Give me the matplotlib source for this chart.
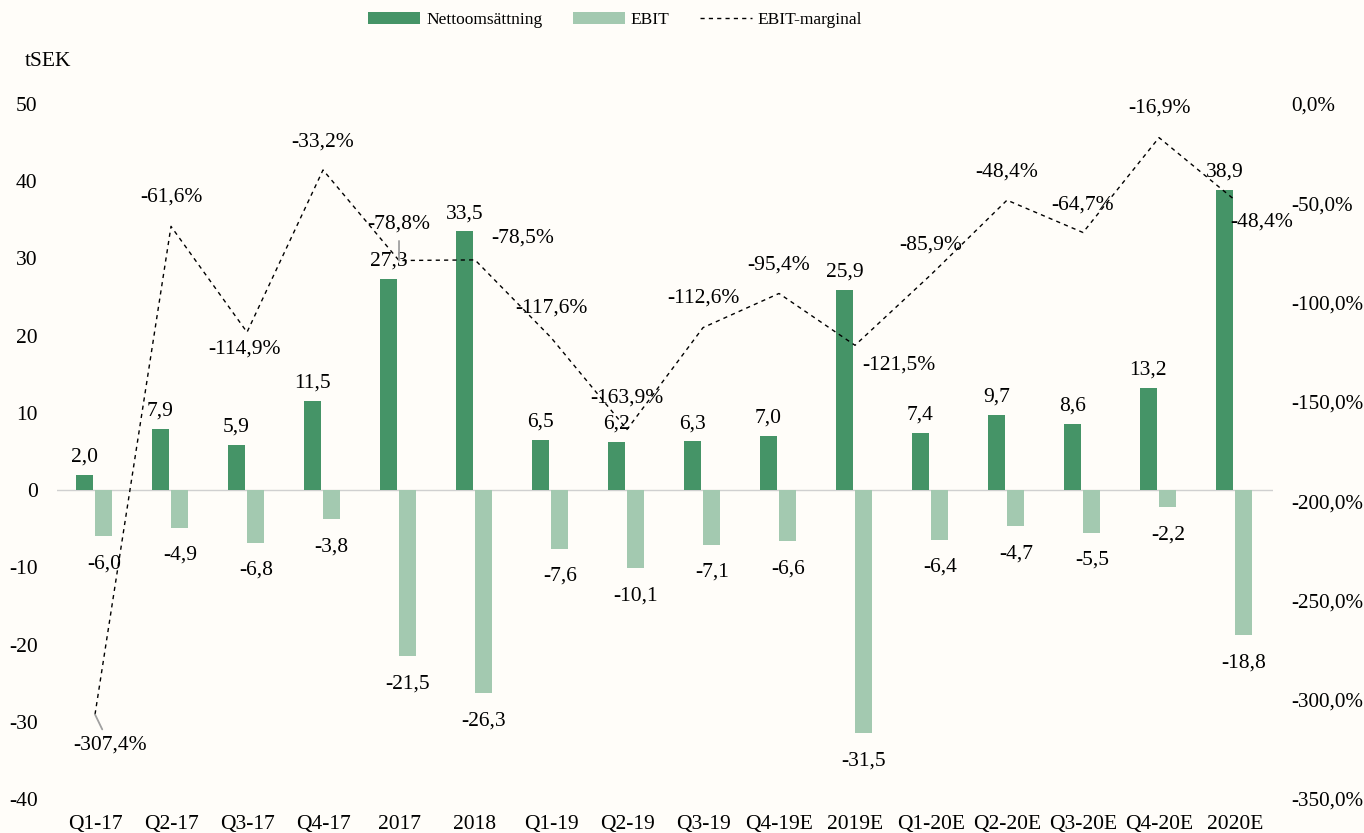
import numpy as np
import matplotlib.pyplot as plt
from matplotlib.ticker import FuncFormatter

# data
categories = ['Q1-17', 'Q2-17', 'Q3-17', 'Q4-17', '2017', '2018', 'Q1-19', 'Q2-19',
              'Q3-19', 'Q4-19E', '2019E', 'Q1-20E', 'Q2-20E', 'Q3-20E', 'Q4-20E', '2020E']
netto = [2.0, 7.9, 5.9, 11.5, 27.3, 33.5, 6.5, 6.2, 6.3, 7.0, 25.9, 7.4, 9.7, 8.6, 13.2, 38.9]
ebit = [-6.0, -4.9, -6.8, -3.8, -21.5, -26.3, -7.6, -10.1, -7.1, -6.6, -31.5, -6.4, -4.7, -5.5, -2.2, -18.8]
marginal = [-307.4, -61.6, -114.9, -33.2, -78.8, -78.5, -117.6, -163.9, -112.6, -95.4,
            -121.5, -85.9, -48.4, -64.7, -16.9, -48.4]

# label offsets for the margin labels (pixels), leader line flag
m_off = [(15, -31), (0, 29), (-3, -17), (0, 28), (0, 36), (48, 22), (0, 30), (0, 31),
         (0, 30), (0, 28), (44, -20), (0, 30), (0, 28), (0, 27), (0, 30), (27, -22)]
m_leader = [0, 4]

dark = '#459467'
light = '#a3c9b0'
bg = '#fffdf9'

plt.rcParams['font.family'] = ['Liberation Serif', 'DejaVu Serif']
plt.rcParams['axes.unicode_minus'] = False
fs = 15.5

fig = plt.figure(figsize=(13.64, 8.33), dpi=100, facecolor=bg)
ax = fig.add_axes([0.0418, 0.0408, 0.8915, 0.8343])
ax.set_facecolor(bg)
x = np.arange(len(categories))
w = 0.22

b1 = ax.bar(x - 0.14, netto, w, color=dark, label='Nettoomsättning', zorder=2)
b2 = ax.bar(x + 0.115, ebit, w, color=light, label='EBIT', zorder=2)
ax.set_ylim(-40, 50)
ax.set_xlim(-0.5, len(categories) - 0.5)
ax.set_yticks(range(-40, 51, 10))
ax.set_xticks(x)
ax.set_xticklabels(categories)
ax.tick_params(axis='both', length=0, labelsize=fs)
ax.tick_params(axis='y', pad=14)
ax.tick_params(axis='x', pad=11.5)
for s in ax.spines.values():
    s.set_visible(False)
ax.axhline(0, color='#d0d0d0', lw=1, zorder=1)

for xi, v in zip(x, netto):
    ax.annotate(f'{v:.1f}'.replace('.', ','), (xi - 0.14, v), xytext=(0, 6),
                textcoords='offset points', ha='center', va='bottom', fontsize=fs)
for xi, v in zip(x, ebit):
    ax.annotate(f'{v:.1f}'.replace('.', ','), (xi + 0.115, v), xytext=(0, -13),
                textcoords='offset points', ha='center', va='top', fontsize=fs)

ax2 = ax.twinx()
ax2.set_ylim(-350, 0)
ax2.set_yticks(range(-350, 1, 50))
ax2.yaxis.set_major_formatter(FuncFormatter(lambda v, p: f'{v:.1f}%'.replace('.', ',')))
ax2.tick_params(axis='y', length=0, labelsize=15.2, pad=13)
for s in ax2.spines.values():
    s.set_visible(False)
l1, = ax2.plot(x, marginal, color='black', lw=1, ls=(0, (3, 3)), label='EBIT-marginal', zorder=3)

for i, (xi, v) in enumerate(zip(x, marginal)):
    dx, dy = m_off[i]
    txt = f'{v:.1f}%'.replace('.', ',')
    if i in m_leader:
        ax2.annotate(txt, (xi, v), xytext=(dx * 0.72, dy * 0.72), textcoords='offset points',
                     ha='center', va='center', fontsize=fs,
                     arrowprops=dict(arrowstyle='-', color='#a0a0a0', lw=1.3, shrinkA=3, shrinkB=0))
    else:
        ax2.annotate(txt, (xi, v), xytext=(dx * 0.72, dy * 0.72), textcoords='offset points',
                     ha='center', va='center', fontsize=fs)

fig.text(0.035, 0.926, 'tSEK', fontsize=fs, ha='center', va='center')

fig.legend(handles=[b1, b2, l1], loc='center', bbox_to_anchor=(0.451, 0.976), ncol=3,
           frameon=False, fontsize=12.5, handlelength=3.0, handletextpad=0.35,
           columnspacing=1.73, handleheight=0.65)

fig.savefig('out.png', dpi=100, facecolor=bg)
